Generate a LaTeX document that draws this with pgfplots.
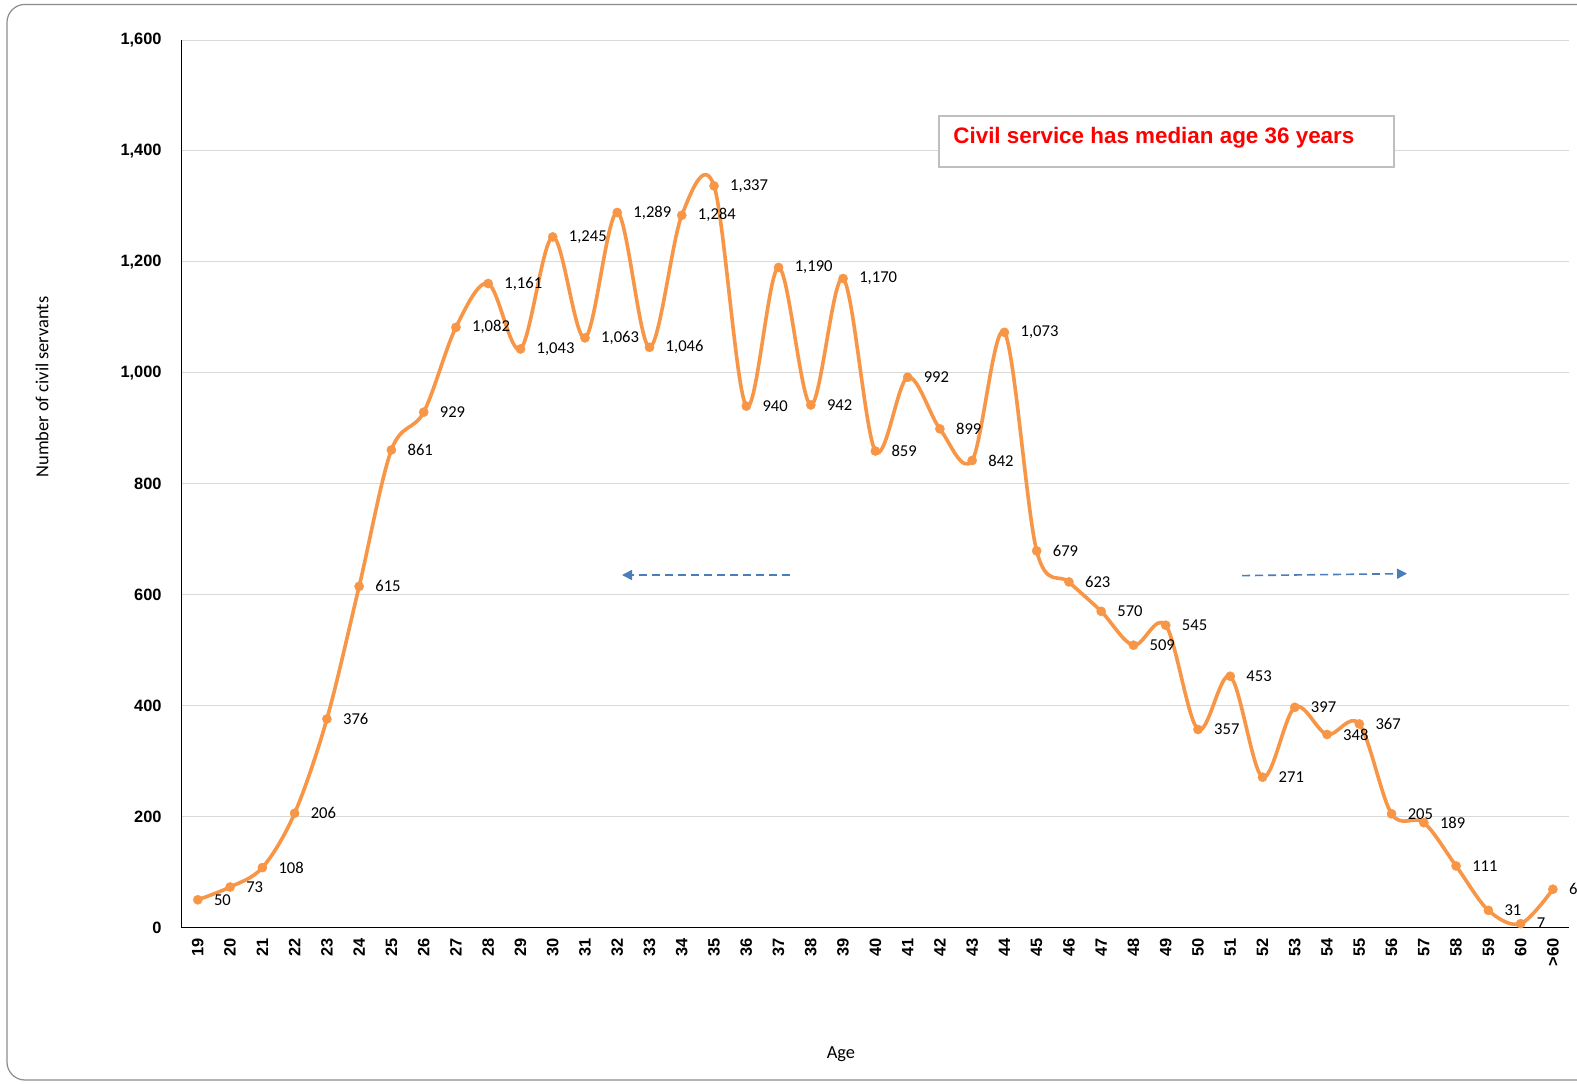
\documentclass[border=0pt]{standalone}
\usepackage{fontspec}
\setmainfont{Carlito}
\newfontfamily\arial{Liberation Sans}
\usepackage{pgfplots}
\usepackage{pgfplotstable}
\pgfplotsset{compat=1.18}
\usetikzlibrary{arrows.meta}
\definecolor{lineor}{HTML}{F79646}
\definecolor{gridc}{HTML}{D9D9D9}
\definecolor{arrowc}{HTML}{4A7EBB}
\definecolor{framec}{HTML}{8C8C8C}
\definecolor{boxc}{HTML}{BFBFBF}

\pgfplotstableread{
x y
0 50
1 73
2 108
3 206
4 376
5 615
6 861
7 929
8 1082
9 1161
10 1043
11 1245
12 1063
13 1289
14 1046
15 1284
16 1337
17 940
18 1190
19 942
20 1170
21 859
22 992
23 899
24 842
25 1073
26 679
27 623
28 570
29 509
30 545
31 357
32 453
33 271
34 397
35 348
36 367
37 205
38 189
39 111
40 31
41 7
42 69
}\agedata

\begin{document}
\begin{tikzpicture}[x=1pt,y=1pt]
\useasboundingbox (0,0) rectangle (788.5,-541.5);
\clip (0,0) rectangle (788.5,-541.5);
\fill[white] (0,0) rectangle (788.5,-541.5);
\draw[framec, line width=0.6pt, rounded corners=9pt] (3.5,-2.2) rectangle (900,-540);
\begin{axis}[
  scale only axis, width=693.65pt, height=443.75pt,
  at={(90.85pt,-463.75pt)}, anchor=south west,
  xmin=-0.5, xmax=42.5, ymin=0, ymax=1600,
  clip=false,
  axis x line*=bottom, axis y line*=left,
  axis line style={black, line width=0.6pt},
  major tick length=0pt,
  ytick={0,200,...,1600},
  xtick={0,...,42},
  xticklabels={19,20,21,22,23,24,25,26,27,28,29,30,31,32,33,34,35,36,37,38,39,40,41,42,43,44,45,46,47,48,49,50,51,52,53,54,55,56,57,58,59,60,{>60}},
  ymajorgrids, major grid style={gridc, line width=0.5pt},
  /pgf/number format/assume math mode=true,
  /pgf/number format/1000 sep={,},
  ticklabel style={font=\arial\bfseries\fontsize{8.2}{10}\selectfont, inner sep=0pt},
  yticklabel style={anchor=east},
  yticklabel shift=9.85pt,
  xticklabel style={rotate=90, anchor=east},
  xticklabel shift=5.25pt,
  ylabel={Number of civil servants},
  ylabel style={at={(axis description cs:-0.1007,0.609)}, anchor=center, font=\fontsize{9.2}{11}\selectfont},
  xlabel={Age},
  xlabel style={at={(axis description cs:0.4752,-0.1425)}, anchor=center, font=\fontsize{9.2}{11}\selectfont},
  nodes near coords,
  nodes near coords style={font=\fontsize{8.3}{10}\selectfont, anchor=west, inner sep=0pt, xshift=8pt, black},
]
\addplot[lineor, line width=1.8pt, smooth, tension=0.55, mark=*, mark size=2.3pt, mark options={fill=lineor, draw=lineor, line width=0.2pt}] table[x=x, y=y] {\agedata};
\end{axis}
\draw[boxc, fill=white, line width=0.6pt] (469.5,-58) rectangle (697,-83.5);
\node[anchor=west, inner sep=0pt, text=red, font=\arial\bfseries\fontsize{11.2}{13}\selectfont] at (476.5,-69) {Civil service has median age 36 years};
\draw[arrowc, line width=0.8pt, dash pattern=on 4pt off 2.5pt, -{Triangle[length=5pt,width=5pt]}] (395,-287.5) -- (311,-287.5);
\draw[arrowc, line width=0.8pt, dash pattern=on 4pt off 2.5pt, -{Triangle[length=5pt,width=5pt]}] (621,-287.8) -- (703.5,-286.8);
\end{tikzpicture}
\end{document}
